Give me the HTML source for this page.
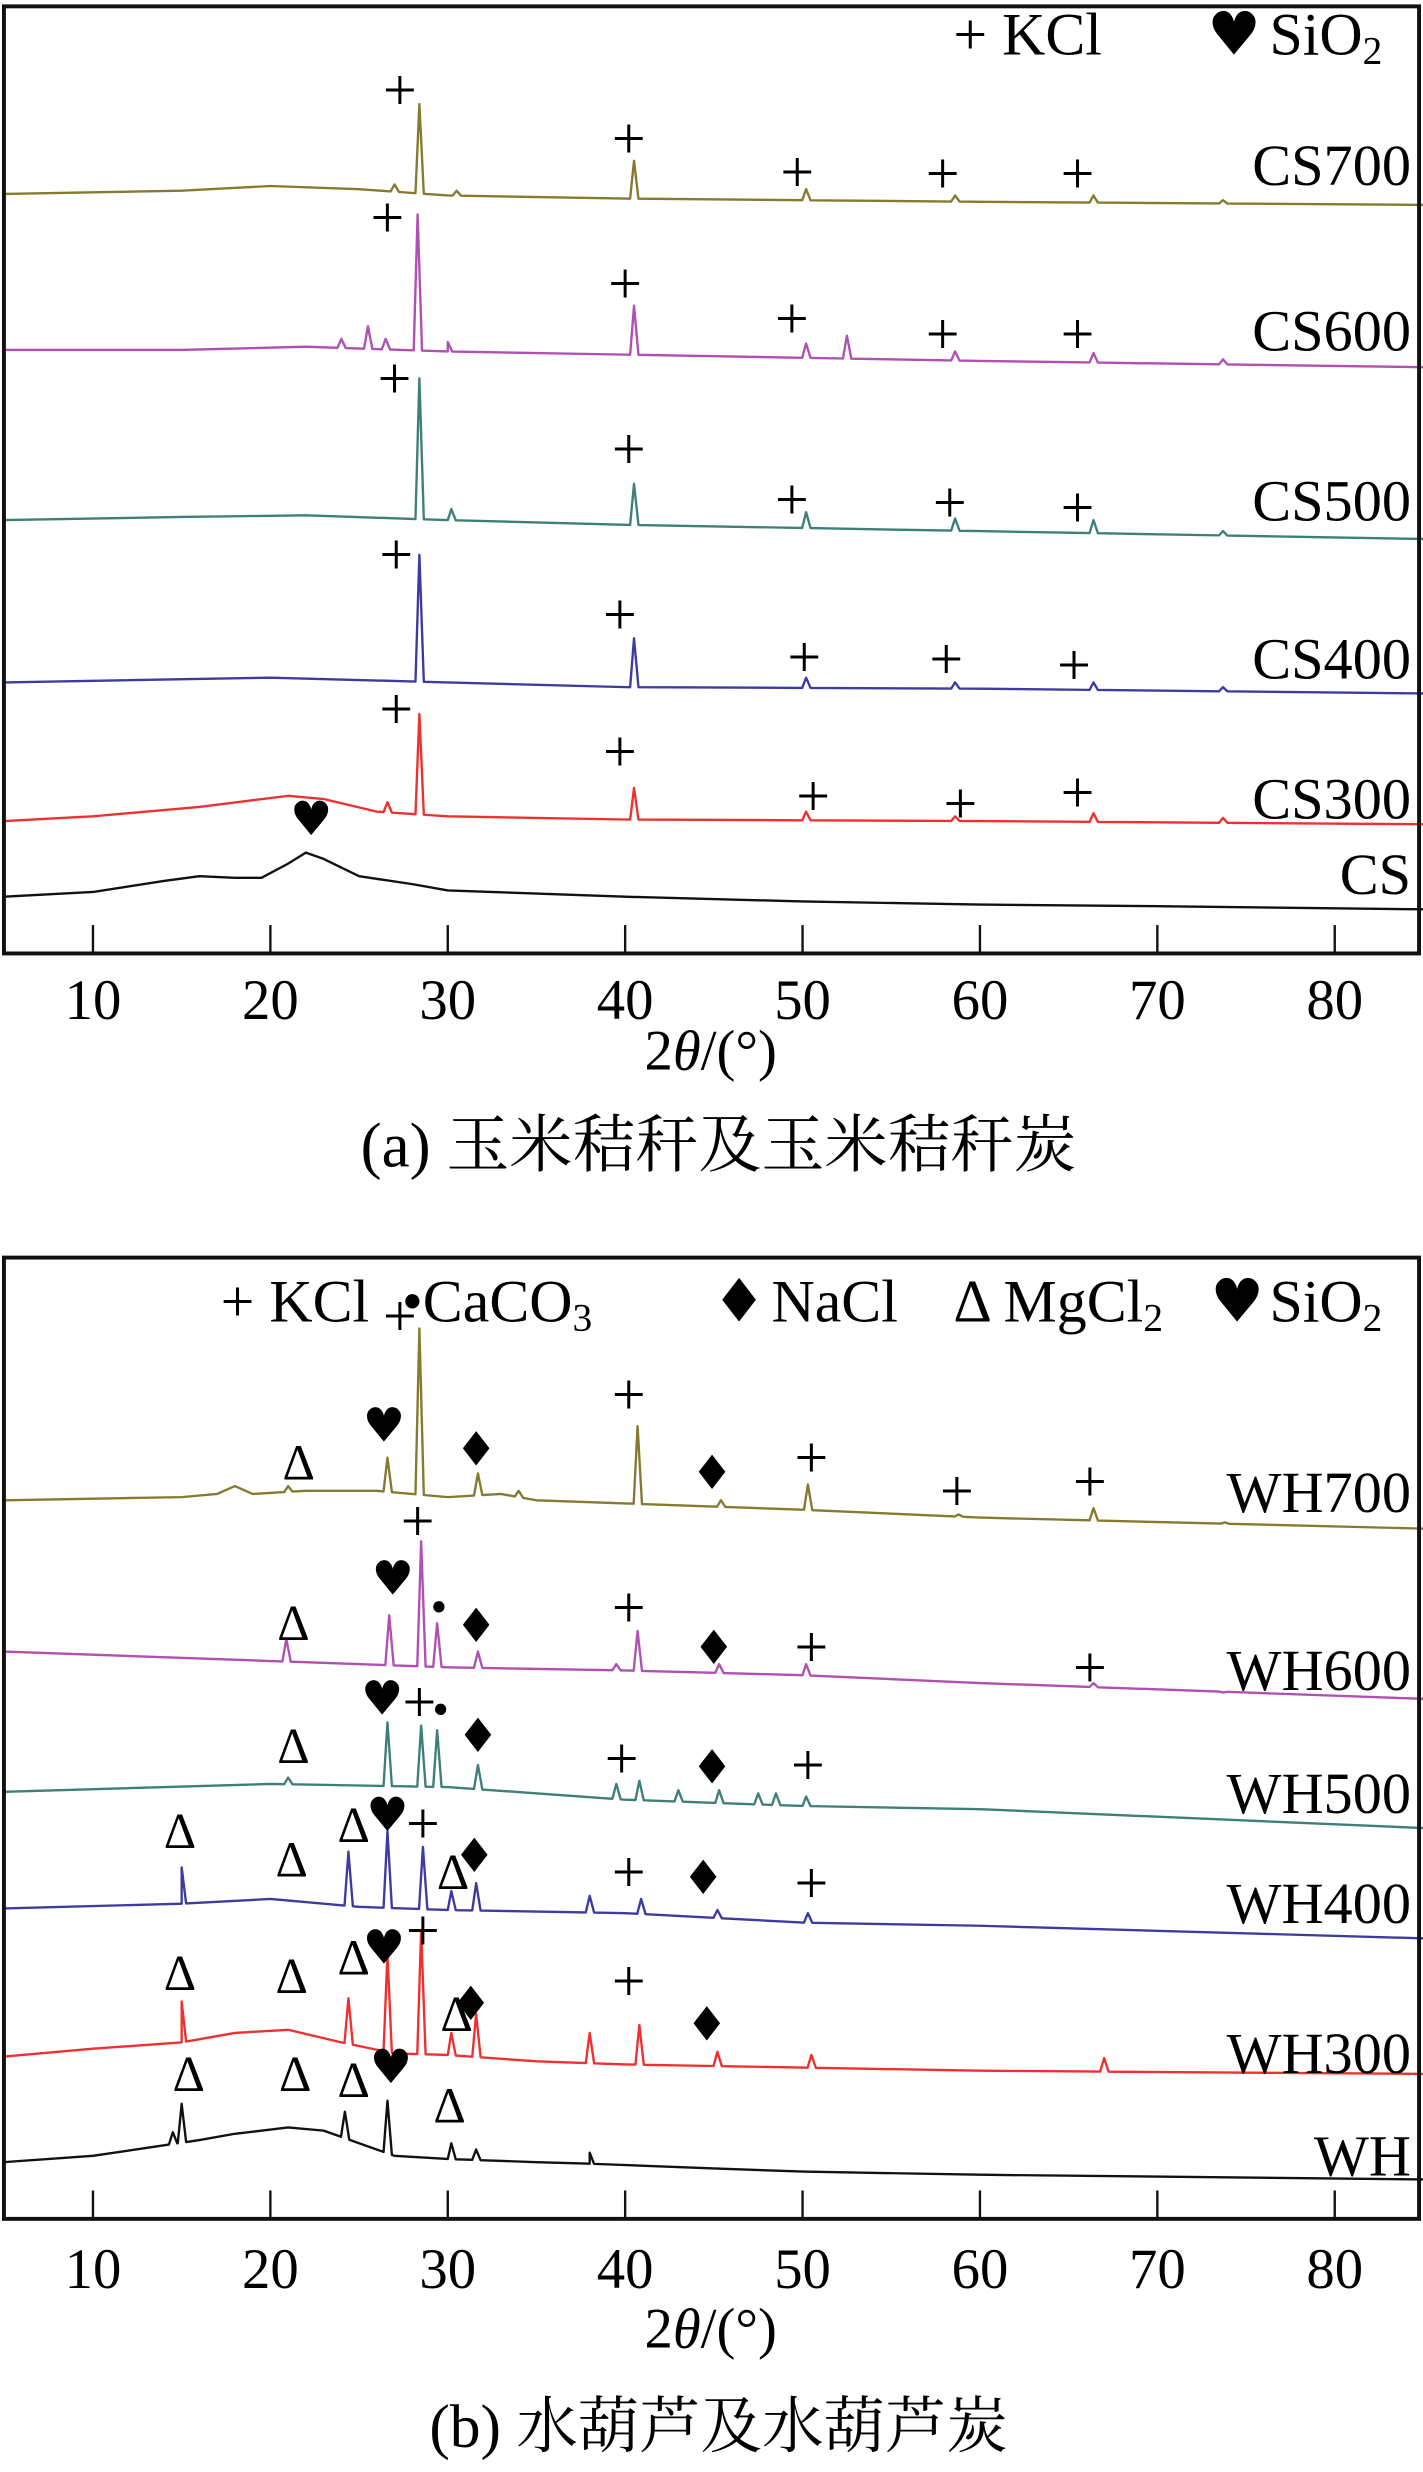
<!DOCTYPE html>
<html><head><meta charset="utf-8"><style>
html,body{margin:0;padding:0;background:#fff}
svg{display:block}
text{font-family:"Liberation Serif","Noto Serif CJK SC","Noto Sans CJK SC",serif;fill:#000}
</style></head><body>
<svg id="fig" width="1423" height="2472" viewBox="0 0 903 1568.6" xmlns="http://www.w3.org/2000/svg"></svg>
<script>
// ---------- data (2θ in degrees, intensity a.u.) ----------
const tickLabels = [10,20,30,40,50,60,70,80];
const seriesNamesA = ["CS","CS300","CS400","CS500","CS600","CS700"];
const seriesNamesB = ["WH","WH300","WH400","WH500","WH600","WH700"];
const colorsA = ["#111","#f03030","#3c3ca0","#3f7f7a","#b050b0","#857a30"];
const colorsB = ["#111","#f03030","#3c3ca0","#3f7f7a","#b050b0","#857a30"];

const baseCS    = [[5,36],[10,39],[14,46],[16,49],[18,48],[19.5,48],[21,57],[22,64],[23,60],[25,49],[28,44],[30,40],[35,38],[40,36],[50,33],[60,31],[70,30],[85,28]];
const peaksCS   = [];
const baseCS300 = [[5,84],[10,87],[16,93],[21,100],[23,98],[26,90],[30,87],[40,85],[60,84],[85,82]];
const peaksCS300= [[26.6,96],[28.4,152],[40.5,105],[50.2,90],[58.6,87],[66.4,89],[73.7,86]];
const baseCS400 = [[5,172],[20,175],[30,172],[40,169],[60,168],[85,165]];
const peaksCS400= [[28.4,253],[40.5,200],[50.2,175],[58.6,172],[66.4,172],[73.7,169]];
const baseCS500 = [[5,275],[15,277],[22,278],[30,275],[40,272],[60,268],[85,263]];
const peaksCS500= [[28.4,365],[30.2,282],[40.5,298],[50.2,280],[58.6,276],[66.4,275],[73.7,268]];
const baseCS600 = [[5,383],[15,383],[22,385],[30,382],[40,380],[60,376],[85,372]];
const peaksCS600= [[24,390],[25.5,398],[26.5,390],[28.3,469],[30,388],[40.5,411],[50.2,387],[52.5,392],[58.6,382],[66.4,381],[73.7,377]];
const baseCS700 = [[5,482],[15,484],[20,487],[25,485],[30,481],[40,479],[60,477],[85,475]];
const peaksCS700= [[27,488],[28.4,539],[30.5,484],[40.5,503],[50.2,485],[58.6,481],[66.4,481],[73.7,478]];

const baseWH    = [[5,36],[10,40],[13,45],[16,50],[18,54],[21,58],[23,56],[25,48],[27,40],[30,38],[35,36],[38,35],[45,32],[50,30],[60,28],[85,25]];
const peaksWH   = [[14.5,55],[15,73],[24.2,68],[26.6,75],[30.2,48],[31.6,44],[38,42]];
const baseWH300 = [[5,103],[10,108],[15,112],[18,118],[21,120],[24,112],[27,105],[30,104],[35,100],[40,98],[50,96],[60,94],[85,92]];
const peaksWH300= [[15,138],[24.4,140],[26.6,168],[28.5,183],[30.2,118],[31.6,130],[38,118],[40.8,123],[45.2,106],[50.5,104],[67,102]];
const baseWH400 = [[5,197],[15,200],[20,203],[25,198],[30,196],[40,194],[50,188],[60,186],[85,178]];
const peaksWH400= [[15,223],[24.4,233],[26.6,246],[28.6,236],[30.2,208],[31.6,213],[38,205],[40.9,203],[45.2,196],[50.3,194]];
const baseWH500 = [[5,271],[20,276],[25,275],[30,274],[40,266],[50,262],[60,260],[85,248]];
const peaksWH500= [[21,280],[26.6,315],[28.5,313],[29.4,310],[31.7,288],[39.5,276],[40.8,278],[43,272],[45.3,272],[47.5,270],[48.5,270],[50.2,268]];
const baseWH600 = [[5,360],[20,354],[30,350],[40,348],[50,345],[60,340],[85,330]];
const peaksWH600= [[20.9,368],[26.7,383],[28.5,430],[29.4,378],[31.7,360],[39.5,352],[40.7,373],[45.3,352],[50.2,352],[66.4,340],[73.7,334]];
const baseWH700 = [[5,456],[15,458],[17,460],[18,465],[19,460],[22,462],[26,462],[30,458],[33,460],[35,456],[40,454],[50,450],[60,445],[85,438]];
const peaksWH700= [[21,465],[26.6,483],[28.4,565],[31.7,473],[34,462],[40.7,503],[45.4,456],[50.3,466],[58.8,447],[66.4,451],[73.8,442]];

const basesA=[baseCS,baseCS300,baseCS400,baseCS500,baseCS600,baseCS700];
const peaksA=[peaksCS,peaksCS300,peaksCS400,peaksCS500,peaksCS600,peaksCS700];
const basesB=[baseWH,baseWH300,baseWH400,baseWH500,baseWH600,baseWH700];
const peaksB=[peaksWH,peaksWH300,peaksWH400,peaksWH500,peaksWH600,peaksWH700];

// annotation markers: [symbol, 2θ, intensity]
const marksA=[["+",27.3,548],["+",40.2,517],["+",49.7,496],["+",57.9,495],["+",65.5,495],
["+",26.6,467],["+",40.0,425],["+",49.4,403],["+",57.9,393],["+",65.5,393],
["+",27.0,365],["+",40.2,320],["+",49.4,288],["+",58.3,286],["+",65.5,283],
["+",27.1,253],["+",39.7,215],["+",50.1,188],["+",58.1,187],["+",65.3,183],
["+",27.1,155],["+",39.7,128],["+",50.6,100],["+",58.9,95],["+",65.5,102],
["♥",22.3,85]];
const marksB=[["Δ",21.6,480],["♥",26.4,503],["+",27.3,573],["♦",31.6,488],["+",40.2,523],["♦",44.9,473],["+",50.5,483],["+",58.7,462],["+",66.2,468],
["Δ",21.3,378],["♥",26.9,406],["+",28.3,443],["•",29.5,388],["♦",31.6,376],["+",40.2,388],["♦",45.0,362],["+",50.5,363],["+",66.2,350],
["Δ",21.3,300],["♥",26.3,330],["+",28.4,328],["•",29.6,323],["♦",31.7,306],["+",39.8,292],["♦",44.9,286],["+",50.3,288],
["Δ",14.9,246],["Δ",21.2,228],["Δ",24.7,250],["♥",26.6,256],["+",28.6,251],["Δ",30.3,220],["♦",31.5,230],["+",40.2,220],["♦",44.4,216],["+",50.5,213],
["Δ",14.9,156],["Δ",21.2,154],["Δ",24.7,166],["♥",26.4,172],["+",28.6,183],["Δ",30.5,130],["♦",31.3,136],["+",40.2,151],["♦",44.6,123],
["Δ",15.4,92],["Δ",21.4,92],["Δ",24.7,88],["♥",26.8,96],["Δ",30.1,72]];
const labelY_A=[50,98,187,287,395,500];
const labelY_B=[40,105,200,270,348,461];

// ---------- drawing ----------
const NS="http://www.w3.org/2000/svg", svg=document.getElementById('fig');
const X=t=>59+(t-10)*11.257;
function el(tag,attrs,parent){const e=document.createElementNS(NS,tag);for(const k in attrs)e.setAttribute(k,attrs[k]);(parent||svg).appendChild(e);return e;}
function interp(base,t){for(let i=0;i<base.length-1;i++){if(t>=base[i][0]&&t<=base[i+1][0]){const f=(t-base[i][0])/(base[i+1][0]-base[i][0]);return base[i][1]+f*(base[i+1][1]-base[i][1]);}}return base[base.length-1][1];}
function seriesPoints(base,peaks){let pts=base.map(p=>[p[0],p[1]]);peaks.forEach(p=>{pts.push([p[0]-0.22,interp(base,p[0]-0.22)]);pts.push([p[0],p[1]]);pts.push([p[0]+0.25,interp(base,p[0]+0.25)]);});pts.sort((a,b)=>a[0]-b[0]);return pts;}

function panel(id,top,bottom,bases,peaks,colors,names,labelY,marks,tickY,titleY,capY,caption,capSize,legend){
  const g=el('g',{});
  
  
  const Y=v=>bottom-v;
  for(let i=0;i<bases.length;i++){
    const pts=seriesPoints(bases[i],peaks[i]);
    const d=pts.map((p,j)=>(j?'L':'M')+X(p[0]).toFixed(2)+' '+Y(p[1]).toFixed(2)).join(' ');
    const path=el('path',{d:d,fill:'none',stroke:colors[i],'stroke-width':1.5,'stroke-linejoin':'round'},g);
    
    
    const lab=el('text',{x:X(84.3),y:Y(labelY[i]),'font-size':37,'text-anchor':'end','dominant-baseline':'central'},g);
    lab.textContent=names[i];
    
    
  }
  marks.forEach(m=>{
    const sz=m[0]==='+'?38:(m[0]==='Δ'?32:30);
    const t=el('text',{x:X(m[1]),y:Y(m[2]),'font-size':sz,'text-anchor':'middle','dominant-baseline':'central'},g);
    if(m[0]==='♥'||m[0]==='♦'){t.setAttribute('style','font-family:"DejaVu Sans",sans-serif');}
    t.textContent=m[0];
    
    
  });
  const fr=el('rect',{x:2.5,y:top,width:898,height:bottom-top,fill:'none',stroke:'#111','stroke-width':2.5},g);
  
  
  tickLabels.forEach(v=>{
    const tk=el('line',{x1:X(v),x2:X(v),y1:bottom,y2:bottom-18,stroke:'#111','stroke-width':1.5},g);
    
    
    const tl=el('text',{x:X(v),y:tickY,'font-size':36,'text-anchor':'middle','dominant-baseline':'central'},g);
    tl.textContent=v;
    
    
  });
  const ti=el('text',{x:451,y:titleY,'font-size':36,'text-anchor':'middle','dominant-baseline':'central'},g);
  ti.innerHTML='2<tspan font-style="italic">θ</tspan>/(°)';
  
  
  const cp=el('text',{x:456,y:capY,'font-size':capSize,'text-anchor':'middle','dominant-baseline':'central'},g);
  cp.textContent=caption;
  
  
  legend.forEach(L=>{
    const lg=el('text',{x:L[0],y:L[1],'font-size':38,'dominant-baseline':'central'},g);
    lg.innerHTML=L[2];
    
    
  });
}
const SUB=(n)=>'<tspan font-size="25" dy="10">'+n+'</tspan>';
const SYM=(s)=>'<tspan style="font-family:DejaVu Sans,sans-serif">'+s+'</tspan>';
panel('panel-a',4,605,basesA,peaksA,colorsA,seriesNamesA,labelY_A,marksA,635,667,727,'(a) 玉米秸秆及玉米秸秆炭',40,
  [[605,22,'+ KCl'],[766,22,SYM('♥')+'<tspan dx="-4"> SiO</tspan>'+SUB('2')]]);
panel('panel-b',798,1408,basesB,peaksB,colorsB,seriesNamesB,labelY_B,marksB,1440,1478,1540,'(b) 水葫芦及水葫芦炭',39,
  [[140,826,'+ KCl'],[255,826,'•CaCO'+SUB('3')],[452,826,SYM('♦')+'<tspan dx="-6"> NaCl</tspan>'],[605,826,'Δ MgCl'+SUB('2')],[768,826,SYM('♥')+'<tspan dx="-6"> SiO</tspan>'+SUB('2')]]);
</script>
</body></html>
